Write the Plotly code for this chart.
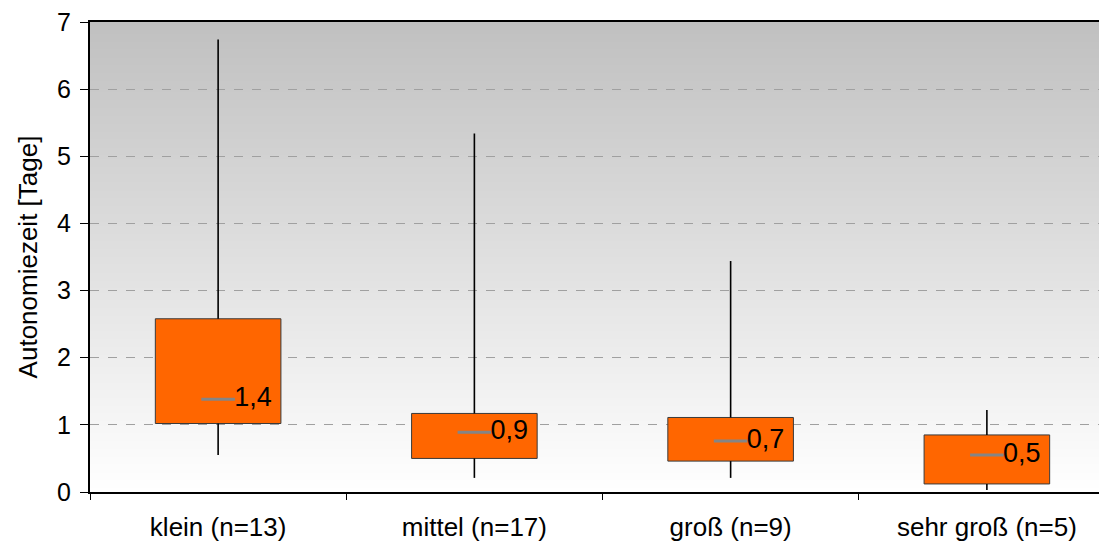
import plotly.graph_objects as go

categories = ["klein (n=13)", "mittel (n=17)", "groß (n=9)", "sehr groß (n=5)"]
lower = [0.55, 0.21, 0.21, 0.03]
q1 = [1.02, 0.50, 0.46, 0.12]
median = [1.38, 0.89, 0.76, 0.55]
q3 = [2.58, 1.17, 1.11, 0.85]
upper = [6.74, 5.34, 3.44, 1.22]
median_labels = ["1,4", "0,9", "0,7", "0,5"]
y_ticks = [0, 1, 2, 3, 4, 5, 6, 7]

FONT = "Liberation Sans, Arial, sans-serif"

fig = go.Figure()

# whiskers (lower fence -> q1, q3 -> upper fence)
wx, wy = [], []
for c, lo, a, b, hi in zip(categories, lower, q1, q3, upper):
    wx += [c, c, None, c, c, None]
    wy += [lo, a, None, b, hi, None]
fig.add_trace(go.Scatter(x=wx, y=wy, mode="lines",
                         line=dict(color="black", width=1.6),
                         hoverinfo="skip", showlegend=False))

# boxes
fig.add_trace(go.Bar(x=categories, y=[b - a for a, b in zip(q1, q3)], base=q1,
                     width=0.49, marker=dict(color="#FF6600",
                     line=dict(color="#3A3A3A", width=1)),
                     showlegend=False))

# medians
fig.add_trace(go.Scatter(x=categories, y=median, mode="markers+text",
                         marker=dict(symbol="line-ew", size=24,
                                     line=dict(color="#858585", width=3)),
                         text=median_labels, textposition="middle right",
                         textfont=dict(family=FONT, size=27, color="black"),
                         showlegend=False))

# vertical gradient background (gray at top -> white at bottom)
n = 120
shapes = []
for i in range(n):
    t = i / (n - 1)
    g = int(round(255 - (255 - 192) * t))
    shapes.append(dict(type="rect", xref="paper", yref="paper",
                       x0=0, x1=1, y0=i / n, y1=(i + 1) / n + 0.002,
                       fillcolor=f"rgb({g},{g},{g})", line=dict(width=0),
                       layer="below"))

fig.update_layout(
    width=1107, height=549,
    margin=dict(l=82, r=0, t=14, b=65),
    paper_bgcolor="white", plot_bgcolor="white",
    font=dict(family=FONT, size=26, color="black"),
    shapes=shapes,
    xaxis=dict(type="category", categoryorder="array", categoryarray=categories,
               range=[-0.5, 3.5], automargin=False,
               tickson="boundaries", ticks="outside", ticklen=6,
               tickcolor="black", tickwidth=1,
               showline=True, linecolor="black", linewidth=2, mirror=True,
               showgrid=False, tickfont=dict(size=26),
               ticklabelstandoff=11, ticklabeloverflow="allow"),
    yaxis=dict(range=[0, 7], tickvals=y_ticks, ticks="outside", ticklen=8,
               tickcolor="black", tickwidth=1, automargin=False,
               showline=True, linecolor="black", linewidth=2, mirror=False,
               showgrid=True, gridcolor="#A0A0A0", gridwidth=1, griddash="dash",
               zeroline=False, tickfont=dict(size=25), ticklabelstandoff=4,
               ticklabeloverflow="allow",
               title=dict(text="Autonomiezeit [Tage]", font=dict(size=26),
                          standoff=12)),
)

fig.write_html("out.html")
